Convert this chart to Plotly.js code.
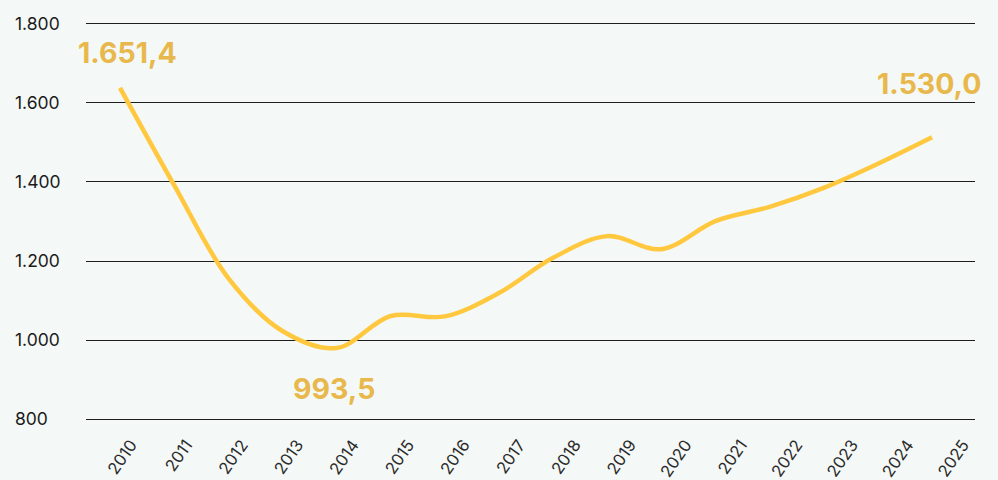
<!DOCTYPE html>
<html>
<head>
<meta charset="utf-8">
<script src="https://cdn.plot.ly/plotly-3.0.1.min.js"></script>
<style>html,body{margin:0;padding:0;background:#F4F8F6;}</style>
</head>
<body>
<div id="chart" style="width:998px;height:480px;"></div>
<script>
const years = [2010, 2011, 2012, 2013, 2014, 2015, 2016, 2017, 2018, 2019, 2020, 2021, 2022, 2023, 2024, 2025];
const yearLabels = ["2010","2011","2012","2013","2014","2015","2016","2017","2018","2019","2020","2021","2022","2023","2024","2025"];
const values = [1638, 1392, 1157, 1023, 980, 1061, 1060, 1119, 1208, 1263, 1230, 1301, 1337, 1385, 1446, 1513];
const yTicks = [800, 1000, 1200, 1400, 1600, 1800];
const calloutYears = [2010, 2014, 2025];
const calloutValues = [1651.4, 993.5, 1530.0];
const calloutTexts = ["1.651,4", "993,5", "1.530,0"];

const lineColor = '#FFC83F';
const labelColor = '#E8B84C';
const gridColor = '#1e1e1e';
const font = 'Inter, "Liberation Sans", Arial, sans-serif';

const traces = [
  {
    x: years, y: values, type: 'scatter', mode: 'lines',
    line: {color: lineColor, width: 4.5, shape: 'spline', smoothing: 1},
    hoverinfo: 'skip', showlegend: false, xaxis: 'x', yaxis: 'y'
  },
  {
    x: years, y: values, type: 'scatter', mode: 'lines',
    line: {color: 'rgba(0,0,0,0)', width: 0},
    hoverinfo: 'skip', showlegend: false, xaxis: 'x2', yaxis: 'y'
  }
];

const shifts = [[8, 30], [-3, -46], [-3, 47]];
const annotations = calloutTexts.map((t, i) => ({
  x: calloutYears[i], y: calloutValues[i], xref: 'x', yref: 'y',
  text: t, showarrow: false,
  xshift: shifts[i][0], yshift: shifts[i][1],
  font: {family: font, size: 28.5, color: labelColor, weight: 700}
}));

const xDomain = [0.0778, 1];
const layout = {
  width: 998, height: 480,
  margin: {l: 11, r: 23, t: 12.45, b: 49.15},
  paper_bgcolor: '#F4F8F6', plot_bgcolor: '#F4F8F6',
  separators: ',.',
  showlegend: false,
  font: {family: font, color: '#1a1a1a'},
  xaxis: {
    domain: xDomain, range: [2009.372, 2025.794], type: 'linear',
    showticklabels: false, showgrid: false, zeroline: false, showline: false, ticks: ''
  },
  xaxis2: {
    overlaying: 'x', anchor: 'y', side: 'bottom', domain: xDomain,
    range: [2009.189, 2025.216], type: 'linear',
    tickmode: 'array', tickvals: years, ticktext: yearLabels,
    tickangle: -55, tickfont: {family: font, size: 16.5, color: '#2a2a2a'},
    showgrid: false, zeroline: false, showline: false, ticks: ''
  },
  yaxis: {
    range: [770, 1830], anchor: 'free', position: 0,
    tickmode: 'array', tickvals: yTicks, tickformat: ',.0f',
    ticklabelposition: 'inside',
    tickfont: {family: font, size: 17.5, color: '#1a1a1a'},
    showgrid: true, gridcolor: gridColor, gridwidth: 1,
    zeroline: false, showline: false, ticks: ''
  },
  annotations: annotations
};

Plotly.newPlot('chart', traces, layout, {displayModeBar: false, staticPlot: true});
</script>
</body>
</html>
